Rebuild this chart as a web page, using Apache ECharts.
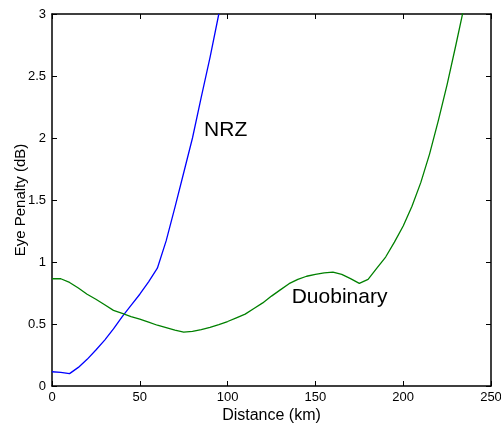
<!DOCTYPE html>
<html>
<head>
<meta charset="utf-8">
<script src="https://cdn.jsdelivr.net/npm/echarts@6/dist/echarts.min.js"></script>
<style>html,body{margin:0;padding:0;background:#fff;}#c{width:501px;height:426px;}</style>
</head>
<body>
<div id="c"></div>
<script>
const distanceNRZ = [0,5,10,15,20,25,30,35,40,45,50,55,60,65,70,75,80,85,90,95];
const nrzValues = [0.115,0.11,0.10,0.15,0.215,0.29,0.37,0.46,0.56,0.65,0.74,0.84,0.95,1.17,1.44,1.72,2.0,2.33,2.65,3.0];
const distanceDuo = [0,5,10,15,20,25,30,35,40,45,50,55,60,65,70,75,80,85,90,95,100,105,110,115,120,125,130,135,140,145,150,155,160,165,170,175,180,185,190,195,200,205,210,215,220,225,230,235];
const duoValues = [0.865,0.865,0.835,0.79,0.74,0.70,0.655,0.61,0.585,0.56,0.54,0.515,0.49,0.47,0.45,0.435,0.44,0.455,0.472,0.495,0.52,0.55,0.58,0.625,0.67,0.725,0.775,0.825,0.86,0.885,0.90,0.912,0.918,0.90,0.866,0.828,0.86,0.95,1.04,1.16,1.29,1.45,1.64,1.87,2.14,2.43,2.75,3.08];
const xTicks = [0,50,100,150,200,250];
const yTicks = [0,0.5,1,1.5,2,2.5,3];
const labelNRZ = {text:'NRZ', at:[86.6,2.06]};
const labelDuo = {text:'Duobinary', at:[136.5,0.714]};

const font = 'Liberation Sans, Arial, sans-serif';
const pair = (xs, ys) => xs.map((x,i)=>[x, ys[i]]);
const axisLine = {show:true, onZero:false, lineStyle:{color:'#000', width:1.5}};
const tick = {show:true, inside:true, length:5, lineStyle:{color:'#000', width:1}};

const chart = echarts.init(document.getElementById('c'), null, {renderer:'canvas'});
chart.setOption({
  animation:false,
  backgroundColor:'#fff',
  grid:{left:52, right:10, top:14, bottom:40, show:false, containLabel:false, outerBoundsMode:'none'},
  xAxis:[
    {type:'value', min:0, max:250, interval:50, position:'bottom',
     axisLine:axisLine, axisTick:tick, splitLine:{show:false},
     axisLabel:{color:'#000', fontSize:13, fontFamily:font, margin:5, formatter:v=>xTicks.includes(v)?String(v):''},
     name:'Distance (km)', nameLocation:'middle', nameGap:22, nameMoveOverlap:false,
     nameTextStyle:{color:'#000', fontSize:16, fontFamily:font}},
    {type:'value', min:0, max:250, interval:50, position:'top',
     axisLine:axisLine, axisTick:tick, splitLine:{show:false}, axisLabel:{show:false}}
  ],
  yAxis:[
    {type:'value', min:0, max:3, interval:0.5, position:'left',
     axisLine:axisLine, axisTick:tick, splitLine:{show:false},
     axisLabel:{color:'#000', fontSize:13, fontFamily:font, margin:6, formatter:v=>yTicks.includes(v)?String(v):''},
     name:'Eye Penalty (dB)', nameLocation:'middle', nameGap:24, nameMoveOverlap:false,
     nameTextStyle:{color:'#000', fontSize:15, fontFamily:font}},
    {type:'value', min:0, max:3, interval:0.5, position:'right',
     axisLine:axisLine, axisTick:tick, splitLine:{show:false}, axisLabel:{show:false}}
  ],
  series:[
    {type:'line', name:'NRZ', data:pair(distanceNRZ, nrzValues), showSymbol:false,
     lineStyle:{color:'#0000ff', width:1.3}, itemStyle:{color:'#0000ff'}, clip:true,
     markPoint:{symbol:'circle', symbolSize:0, silent:true,
       label:{show:true, position:'right', distance:0, formatter:labelNRZ.text, color:'#000', fontSize:21, fontFamily:font},
       data:[{coord:labelNRZ.at}]}},
    {type:'line', name:'Duobinary', data:pair(distanceDuo, duoValues), showSymbol:false,
     lineStyle:{color:'#008000', width:1.3}, itemStyle:{color:'#008000'}, clip:true,
     markPoint:{symbol:'circle', symbolSize:0, silent:true,
       label:{show:true, position:'right', distance:0, formatter:labelDuo.text, color:'#000', fontSize:21, fontFamily:font},
       data:[{coord:labelDuo.at}]}}
  ]
});
</script>
</body>
</html>
